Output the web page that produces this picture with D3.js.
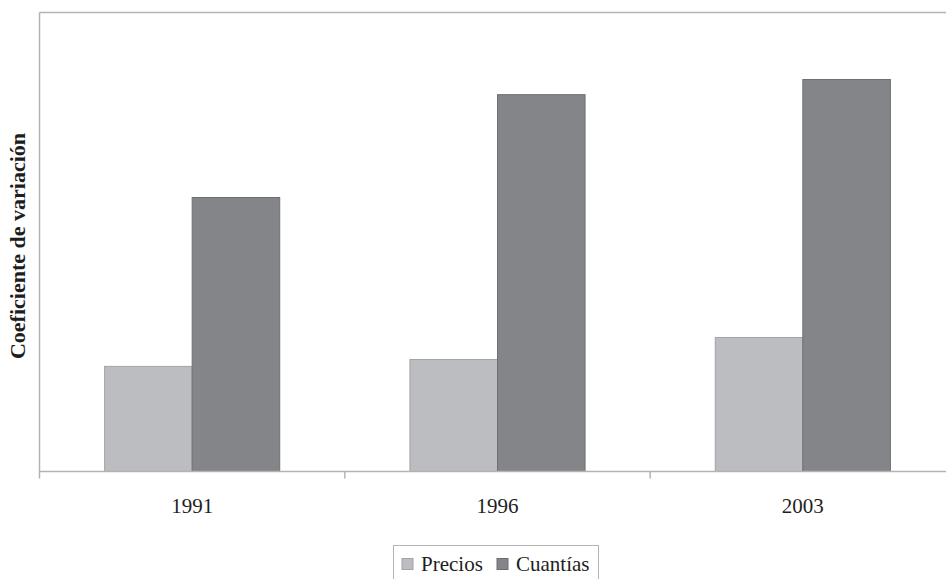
<!DOCTYPE html>
<html>
<head>
<meta charset="utf-8">
<script src="https://cdn.jsdelivr.net/npm/d3@7"></script>
<style>
  html, body { margin: 0; padding: 0; background: #fff; }
  svg { display: block; }
</style>
</head>
<body>
<script>
// Coefficient of variation by year: prices vs. quantities
const years = ["1991", "1996", "2003"];
const seriesNames = ["Precios", "Cuantías"];
const precios = [0.229, 0.244, 0.292];
const cuantias = [0.597, 0.821, 0.854];
const colors = ["#bcbdc1", "#848589"];
const strokes = ["#a2a3a7", "#6e6f73"];

const W = 946, H = 579;
const plotLeft = 39.5, plotTop = 12.5, plotBottom = 471.5, plotRight = 955.5;

const svg = d3.select("body").append("svg").attr("width", W).attr("height", H);

const x0 = d3.scaleBand().domain(years).range([plotLeft, plotRight]).paddingInner(0).paddingOuter(0);
const x1 = d3.scaleBand().domain(seriesNames).range([0, x0.bandwidth()]).paddingInner(0).paddingOuter(0.7436);
const y = d3.scaleLinear().domain([0, 1]).range([plotBottom, plotTop]);

const rows = years.map((yr, i) => ({ year: yr, values: [precios[i], cuantias[i]] }));

// frame: top and left edges
svg.append("line").attr("x1", plotLeft).attr("x2", W).attr("y1", plotTop).attr("y2", plotTop)
  .attr("stroke", "#b3b3b3").attr("stroke-width", 1.5);
svg.append("line").attr("x1", plotLeft).attr("x2", plotLeft).attr("y1", plotTop).attr("y2", plotBottom)
  .attr("stroke", "#b3b3b3").attr("stroke-width", 1.5);

// bars
const g = svg.append("g");
rows.forEach(r => {
  seriesNames.forEach((s, j) => {
    g.append("rect")
      .attr("x", x0(r.year) + x1(s))
      .attr("y", y(r.values[j]))
      .attr("width", x1.bandwidth())
      .attr("height", y(0) - y(r.values[j]))
      .attr("fill", colors[j])
      .attr("stroke", strokes[j])
      .attr("stroke-width", 1);
  });
});

// category axis
const xAxis = d3.axisBottom(x0).tickSize(0).tickFormat(d => d);
const ax = svg.append("g").attr("transform", `translate(0,${plotBottom})`).call(xAxis);
ax.select(".domain").remove();
ax.selectAll("text")
  .attr("dy", 0).attr("y", 41)
  .attr("font-family", "'Liberation Serif', 'Times New Roman', serif")
  .attr("font-size", 21).attr("fill", "#1e1e1e");
svg.append("line").attr("x1", plotLeft).attr("x2", W).attr("y1", plotBottom).attr("y2", plotBottom)
  .attr("stroke", "#b3b3b3").attr("stroke-width", 1.5);
// boundary ticks between categories
const bounds = years.map(yr => x0(yr));
svg.selectAll(".btick").data(bounds).enter().append("line")
  .attr("x1", d => d).attr("x2", d => d)
  .attr("y1", plotBottom).attr("y2", plotBottom + 7)
  .attr("stroke", "#b3b3b3").attr("stroke-width", 1.5);

// y-axis title
svg.append("text")
  .attr("transform", `translate(25,${(plotTop + plotBottom) / 2 + 4}) rotate(-90)`)
  .attr("text-anchor", "middle")
  .attr("font-family", "'Liberation Serif', 'Times New Roman', serif")
  .attr("font-weight", "bold").attr("font-size", 22).attr("fill", "#1e1e1e")
  .text("Coeficiente de variación");

// legend
const lg = svg.append("g");
lg.append("rect").attr("x", 393.5).attr("y", 545.5).attr("width", 205).attr("height", 40)
  .attr("fill", "#fff").attr("stroke", "#b3b3b3").attr("stroke-width", 1);
const legendX = [402, 497];
seriesNames.forEach((s, j) => {
  lg.append("rect").attr("x", legendX[j]).attr("y", 558.5).attr("width", 11).attr("height", 11)
    .attr("fill", colors[j]).attr("stroke", strokes[j]);
  lg.append("text").attr("x", legendX[j] + 19).attr("y", 571)
    .attr("font-family", "'Liberation Serif', 'Times New Roman', serif")
    .attr("font-size", 21).attr("fill", "#1e1e1e").text(s);
});
</script>
</body>
</html>
